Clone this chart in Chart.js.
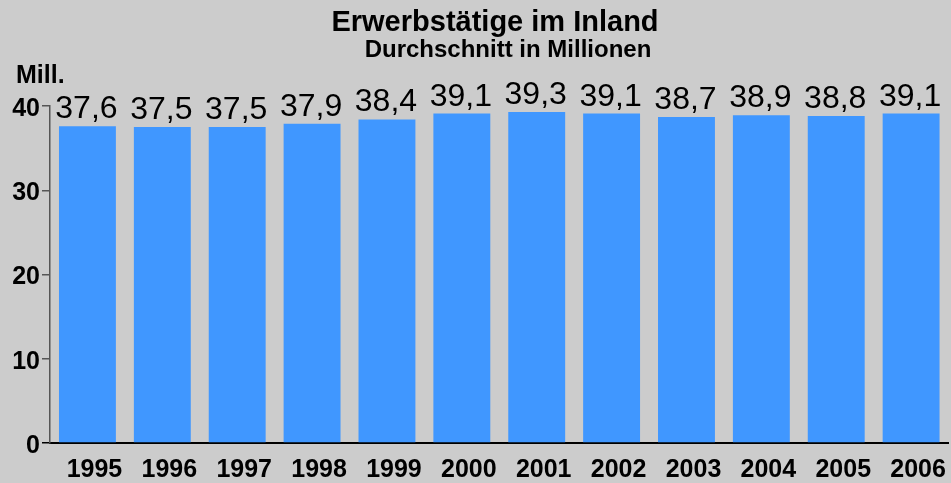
<!DOCTYPE html>
<html>
<head>
<meta charset="utf-8">
<script src="https://cdn.jsdelivr.net/npm/chart.js@4/dist/chart.umd.min.js"></script>
<style>
  html, body { margin: 0; padding: 0; background: #cccccc; }
  canvas { display: block; }
</style>
</head>
<body>
<canvas id="chart" width="951" height="483"></canvas>
<script>
var years = ['1995', '1996', '1997', '1998', '1999', '2000', '2001', '2002', '2003', '2004', '2005', '2006'];
var employed = [37.6, 37.5, 37.5, 37.9, 38.4, 39.1, 39.3, 39.1, 38.7, 38.9, 38.8, 39.1];
var yTicks = [0, 10, 20, 30, 40];

var titleText = 'Erwerbstätige im Inland';
var subtitleText = 'Durchschnitt in Millionen';
var unitText = 'Mill.';

var fontName = '"Liberation Sans", Arial, sans-serif';

// labels above bars + header texts
var textPlugin = {
    id: 'texts',
    afterDatasetsDraw: function (chart) {
        var ctx = chart.ctx;
        ctx.save();
        ctx.fillStyle = '#000';
        ctx.font = '32px ' + fontName;
        ctx.textAlign = 'center';
        ctx.textBaseline = 'alphabetic';
        chart.getDatasetMeta(0).data.forEach(function (bar, i) {
            ctx.fillText(employed[i].toFixed(1).replace('.', ','), bar.x - 1, bar.y - 8);
        });

        ctx.font = 'bold 29px ' + fontName;
        ctx.fillText(titleText, 495, 31);
        ctx.font = 'bold 24px ' + fontName;
        ctx.fillText(subtitleText, 508, 57);

        ctx.textAlign = 'left';
        ctx.font = 'bold 25px ' + fontName;
        ctx.fillText(unitText, 16, 83);
        ctx.restore();
    }
};

var chart = new Chart(document.getElementById('chart'), {
    type: 'bar',
    data: {
        labels: years,
        datasets: [{
            data: employed,
            backgroundColor: '#4097ff',
            borderWidth: 0,
            categoryPercentage: 1,
            barPercentage: 0.76
        }]
    },
    options: {
        responsive: false,
        animation: false,
        layout: { padding: { top: 106, right: 2, left: 0, bottom: 0 } },
        plugins: {
            legend: { display: false },
            tooltip: { enabled: false },
            title: { display: false }
        },
        scales: {
            x: {
                offset: true,
                grid: { display: false, drawTicks: false },
                border: { display: true, color: '#000', width: 2 },
                ticks: {
                    color: '#000',
                    font: { family: fontName, size: 25, weight: 'bold' },
                    padding: 12,
                    labelOffset: 7,
                    maxRotation: 0,
                    autoSkip: false
                },
                afterFit: function (scale) { scale.height = 40; }
            },
            y: {
                min: 0,
                max: 40,
                afterBuildTicks: function (scale) {
                    scale.ticks = yTicks.map(function (v) { return { value: v }; });
                },
                grid: {
                    drawOnChartArea: false,
                    drawTicks: true,
                    tickLength: 8,
                    color: function (c) { return c.tick && c.tick.value === 0 ? '#000' : '#555'; },
                    lineWidth: 1.5
                },
                border: { display: true, color: '#555', width: 1.5 },
                ticks: {
                    color: '#000',
                    font: { family: fontName, size: 25, weight: 'bold' },
                    padding: 2,
                    labelOffset: 3
                },
                afterFit: function (scale) { scale.width = 50; }
            }
        }
    },
    plugins: [textPlugin]
});
</script>
</body>
</html>
